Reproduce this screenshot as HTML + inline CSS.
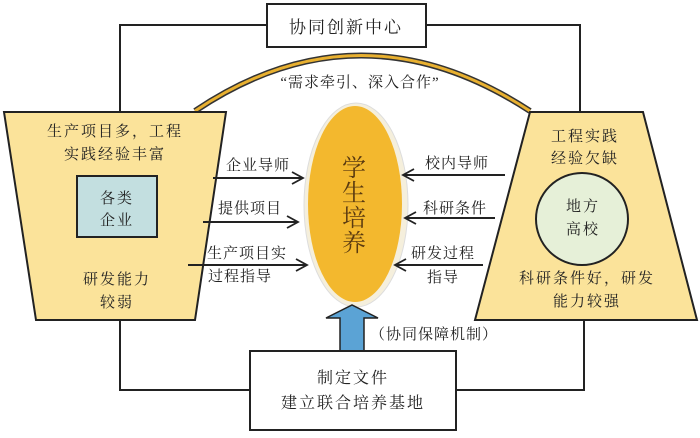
<!DOCTYPE html>
<html><head><meta charset="utf-8"><style>
body{margin:0;background:#fff}
text{font-family:"Liberation Serif","Noto Serif CJK SC",serif;fill:#222}
</style></head><body>
<svg width="700" height="433" viewBox="0 0 700 433" xmlns="http://www.w3.org/2000/svg">
<defs>
<marker id="ah" markerWidth="14" markerHeight="14" refX="12" refY="7" orient="auto" markerUnits="userSpaceOnUse">
<path d="M1,1 L12,7 L1,13" fill="none" stroke="#222" stroke-width="1.8"/>
</marker>
</defs>
<!-- connector lines -->
<polyline points="267,25 120,25 120,112" fill="none" stroke="#222" stroke-width="2"/>
<polyline points="426,25 580,25 580,112" fill="none" stroke="#222" stroke-width="2"/>
<polyline points="250,390 120,390 120,320" fill="none" stroke="#222" stroke-width="2"/>
<polyline points="456,390 584,390 584,320" fill="none" stroke="#222" stroke-width="2"/>
<!-- arch -->
<path d="M195,111 Q360,0 530,111" fill="none" stroke="#333" stroke-width="6"/>
<path d="M195,111 Q360,0 530,111" fill="none" stroke="#e8b030" stroke-width="3"/>
<!-- top box -->
<rect x="267" y="4" width="159" height="43" fill="#fff" stroke="#222" stroke-width="2"/>
<text x="346" y="33" font-size="17" text-anchor="middle" letter-spacing="2">协同创新中心</text>
<text x="360" y="87" font-size="15" text-anchor="middle" letter-spacing="1">“需求牵引、深入合作”</text>
<!-- left trapezoid -->
<polygon points="4,112 226,112 195,320 36,320" fill="#fbe39a" stroke="#222" stroke-width="2"/>
<text x="115" y="136" font-size="15" text-anchor="middle" letter-spacing="2">生产项目多，工程</text>
<text x="115" y="159" font-size="15" text-anchor="middle" letter-spacing="2">实践经验丰富</text>
<rect x="77" y="176" width="80" height="61" fill="#c3dfe0" stroke="#222" stroke-width="2"/>
<text x="117" y="203" font-size="15" text-anchor="middle" letter-spacing="2">各类</text>
<text x="117" y="225" font-size="15" text-anchor="middle" letter-spacing="2">企业</text>
<text x="117" y="284" font-size="15" text-anchor="middle" letter-spacing="2">研发能力</text>
<text x="117" y="307" font-size="15" text-anchor="middle" letter-spacing="2">较弱</text>
<!-- right trapezoid -->
<polygon points="530,112 643,112 697,320 475,320" fill="#fbe39a" stroke="#222" stroke-width="2"/>
<text x="585" y="141" font-size="15" text-anchor="middle" letter-spacing="2">工程实践</text>
<text x="585" y="163" font-size="15" text-anchor="middle" letter-spacing="2">经验欠缺</text>
<circle cx="582" cy="219" r="46" fill="#e6f0d8" stroke="#222" stroke-width="2"/>
<text x="583" y="211" font-size="15" text-anchor="middle" letter-spacing="2">地方</text>
<text x="583" y="234" font-size="15" text-anchor="middle" letter-spacing="2">高校</text>
<text x="587" y="283" font-size="15" text-anchor="middle" letter-spacing="2">科研条件好，研发</text>
<text x="587" y="306" font-size="15" text-anchor="middle" letter-spacing="2">能力较强</text>
<!-- ellipse -->
<ellipse cx="356" cy="205" rx="52" ry="102" fill="#f5efdc" stroke="#ddd" stroke-width="1"/>
<ellipse cx="355" cy="204" rx="47" ry="98" fill="#f3b82e"/>
<g font-size="24" text-anchor="middle">
<text x="354" y="176" style="fill:#5a3a10">学</text>
<text x="354" y="201" style="fill:#5a3a10">生</text>
<text x="354" y="226" style="fill:#5a3a10">培</text>
<text x="354" y="251" style="fill:#5a3a10">养</text>
</g>
<!-- left arrows -->
<g stroke="#222" stroke-width="2" fill="none" marker-end="url(#ah)">
<line x1="213" y1="178" x2="303" y2="178"/>
<line x1="203" y1="222" x2="298" y2="222"/>
<line x1="188" y1="265" x2="307" y2="265"/>
<line x1="505" y1="175" x2="403" y2="175"/>
<line x1="495" y1="218" x2="405" y2="218"/>
<line x1="483" y1="265" x2="395" y2="265"/>
</g>
<g font-size="15" text-anchor="middle" letter-spacing="1">
<text x="258" y="170">企业导师</text>
<text x="250" y="213">提供项目</text>
<text x="247" y="258">生产项目实</text>
<text x="240" y="281">过程指导</text>
<text x="457" y="168">校内导师</text>
<text x="455" y="213">科研条件</text>
<text x="443" y="258">研发过程</text>
<text x="443" y="282">指导</text>
</g>
<!-- blue arrow -->
<polygon points="340,351 340,318 326,318 352,305 378,318 364,318 364,351" fill="#5ba3d5" stroke="#222" stroke-width="1.5"/>
<text x="370" y="339" font-size="15" letter-spacing="1">（协同保障机制）</text>
<!-- bottom box -->
<rect x="250" y="351" width="206" height="79" fill="#fff" stroke="#222" stroke-width="2"/>
<text x="353" y="383" font-size="16" text-anchor="middle" letter-spacing="2">制定文件</text>
<text x="353" y="408" font-size="16" text-anchor="middle" letter-spacing="2">建立联合培养基地</text>
</svg>
</body></html>
